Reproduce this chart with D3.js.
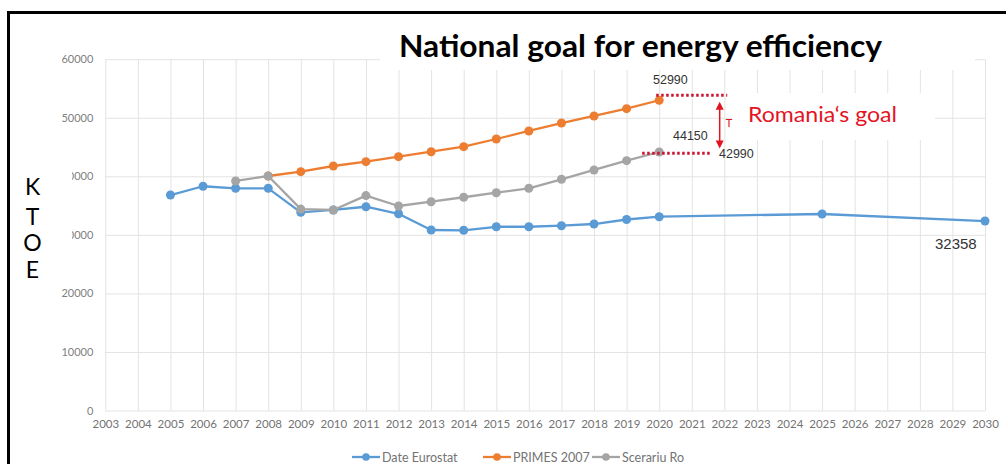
<!DOCTYPE html>
<html>
<head>
<meta charset="utf-8">
<script src="https://cdn.jsdelivr.net/npm/d3@7"></script>
<style>
html,body{margin:0;padding:0;background:#fff;}
svg{display:block;}
</style>
</head>
<body>
<svg id="chart" width="1006" height="464"></svg>
<script>
// ---- data ----
const years = d3.range(2003, 2031);
const yTicks = [0, 10000, 20000, 30000, 40000, 50000, 60000];

const eurostatYears  = [2005,2006,2007,2008,2009,2010,2011,2012,2013,2014,2015,2016,2017,2018,2019,2020,2025,2030];
const eurostatValues = [36800,38300,37950,37950,33850,34250,34800,33600,30830,30780,31380,31380,31560,31850,32620,33100,33560,32358];

const primesYears  = [2008,2009,2010,2011,2012,2013,2014,2015,2016,2017,2018,2019,2020];
const primesValues = [40050,40790,41760,42500,43350,44200,45060,46370,47740,49100,50300,51550,52990];

const scenarioYears  = [2007,2008,2009,2010,2011,2012,2013,2014,2015,2016,2017,2018,2019,2020];
const scenarioValues = [39200,40050,34400,34250,36700,34930,35660,36420,37200,37950,39490,41080,42670,44150];

const seriesNames = ["Date Eurostat", "PRIMES 2007", "Scerariu Ro"];
const seriesColors = ["#5B9BD5", "#ED7D31", "#A5A5A5"];

(function(){
// ---- layout ----
const svg = d3.select("#chart");
const pLeft = 105.3, pRight = 985, pTop = 59.2, pBottom = 410.5;

const x = d3.scalePoint().domain(years).range([pLeft, pRight]);
const y = d3.scaleLinear().domain([0, 60000]).range([pBottom, pTop]);

const grid = "#e3e3e3";
const tickColor = "#808080";

// horizontal gridlines
svg.append("g")
  .attr("transform", `translate(${pLeft},0)`)
  .call(d3.axisLeft(y).tickValues(yTicks).tickSize(-(pRight-pLeft)).tickFormat(""))
  .call(g => g.select(".domain").remove())
  .call(g => g.selectAll("line").attr("stroke", grid).attr("stroke-width", 1));

// vertical gridlines
svg.append("g")
  .attr("transform", `translate(0,${pBottom})`)
  .call(d3.axisBottom(x).tickSize(-(pBottom-pTop)).tickFormat(""))
  .call(g => g.select(".domain").remove())
  .call(g => g.selectAll("line").attr("stroke", grid).attr("stroke-width", 1));

// y tick labels
svg.append("g")
  .attr("transform", `translate(${pLeft},0)`)
  .call(d3.axisLeft(y).tickValues(yTicks).tickSize(0).tickPadding(12).tickFormat(d3.format("d")))
  .call(g => g.select(".domain").remove())
  .call(g => g.selectAll("text").attr("fill", tickColor).attr("font-family", "Lato, sans-serif").attr("font-size", "11px"));

// x tick labels
svg.append("g")
  .attr("transform", `translate(0,${pBottom})`)
  .call(d3.axisBottom(x).tickSize(0).tickPadding(9).tickFormat(d3.format("d")))
  .call(g => g.select(".domain").remove())
  .call(g => g.selectAll("text").attr("fill", "#737373").attr("font-family", "Lato, sans-serif").attr("font-size", "11.5px"));

// series
const series = [
  {name: seriesNames[0], color: seriesColors[0], pts: eurostatYears.map((yr,i)=>({yr, v: eurostatValues[i]}))},
  {name: seriesNames[1], color: seriesColors[1], pts: primesYears.map((yr,i)=>({yr, v: primesValues[i]}))},
  {name: seriesNames[2], color: seriesColors[2], pts: scenarioYears.map((yr,i)=>({yr, v: scenarioValues[i]}))}
];
const line = d3.line().x(d => x(d.yr)).y(d => y(d.v));

series.forEach(s => {
  const g = svg.append("g");
  g.append("path").datum(s.pts).attr("d", line)
    .attr("fill", "none").attr("stroke", s.color).attr("stroke-width", 2.3).attr("stroke-linejoin", "round");
  g.selectAll("circle").data(s.pts).join("circle")
    .attr("cx", d => x(d.yr)).attr("cy", d => y(d.v)).attr("r", 4.5).attr("fill", s.color);
});

// title (with white background covering gridlines)
svg.append("rect").attr("x", 380).attr("y", 24).attr("width", 595).attr("height", 46).attr("fill", "#fff");
svg.append("text").attr("x", 399).attr("y", 57)
  .attr("font-family", "Lato, sans-serif").attr("font-weight", "bold").attr("font-size", "30px")
  .attr("fill", "#000").attr("textLength", 483).attr("lengthAdjust", "spacingAndGlyphs")
  .text("National goal for energy efficiency");

// KTOE label with white background
svg.append("rect").attr("x", 10).attr("y", 165).attr("width", 62).attr("height", 120).attr("fill", "#fff");
const ktoeBase = [195, 225, 251, 278];
["K","T","O","E"].forEach((c,i) => {
  svg.append("text").attr("x", 32.5).attr("y", ktoeBase[i]).attr("text-anchor", "middle")
    .attr("font-family", "Lato, sans-serif").attr("font-size", "23px").attr("fill", "#000").text(c);
});

// annotation: Romania's goal
const red = "#e3141f";
svg.append("rect").attr("x", 732).attr("y", 93).attr("width", 203).attr("height", 47).attr("fill", "#fff");
const x20 = x(2020);
svg.append("line").attr("x1", x20-3).attr("x2", x20+68).attr("y1", y(52990)-5).attr("y2", y(52990)-5)
  .attr("stroke", "#cc1430").attr("stroke-width", 3).attr("stroke-dasharray", "2.5,2.5");
svg.append("line").attr("x1", x20-17).attr("x2", x20+53).attr("y1", y(44150)+1.3).attr("y2", y(44150)+1.3)
  .attr("stroke", "#cc1430").attr("stroke-width", 3).attr("stroke-dasharray", "2.5,2.5");
// double arrow
const ax = x20 + 60.5, ay1 = y(52990) + 1.5, ay2 = y(44150) - 3.5;
svg.append("line").attr("x1", ax).attr("x2", ax).attr("y1", ay1 + 6).attr("y2", ay2 - 6)
  .attr("stroke", red).attr("stroke-width", 1.5);
svg.append("path").attr("d", `M${ax},${ay1} L${ax-4},${ay1+8} L${ax+4},${ay1+8} Z`).attr("fill", red);
svg.append("path").attr("d", `M${ax},${ay2} L${ax-4},${ay2-8} L${ax+4},${ay2-8} Z`).attr("fill", red);
svg.append("text").attr("x", ax + 6).attr("y", 127).attr("font-family", "Lato, sans-serif")
  .attr("font-size", "11px").attr("fill", red).text("T");
svg.append("text").attr("x", 748).attr("y", 121.5).attr("font-family", "Lato, sans-serif")
  .attr("font-size", "21px").attr("fill", red).attr("textLength", 149).attr("lengthAdjust", "spacingAndGlyphs")
  .text("Romania\u2018s goal");

// value labels
const valFont = "Liberation Sans, Arial, sans-serif";
svg.append("text").attr("x", 653).attr("y", 83.5).attr("font-family", valFont).attr("font-size", "12.5px")
  .attr("fill", "#333").text(d3.format("d")(primesValues[primesValues.length-1]));
svg.append("text").attr("x", 673).attr("y", 140).attr("font-family", valFont).attr("font-size", "12.5px")
  .attr("fill", "#333").text(d3.format("d")(scenarioValues[scenarioValues.length-1]));
svg.append("text").attr("x", 719).attr("y", 158).attr("font-family", valFont).attr("font-size", "12.5px")
  .attr("fill", "#333").text("42990");
svg.append("text").attr("x", 935).attr("y", 248.5).attr("font-family", valFont).attr("font-size", "15px")
  .attr("fill", "#333").text(d3.format("d")(eurostatValues[eurostatValues.length-1]));

// legend
const legendX = [352, 483, 592];
series.forEach((s, i) => {
  const lx = legendX[i], ly = 457;
  svg.append("line").attr("x1", lx).attr("x2", lx + 28).attr("y1", ly).attr("y2", ly)
    .attr("stroke", s.color).attr("stroke-width", 2.3);
  svg.append("circle").attr("cx", lx + 14).attr("cy", ly).attr("r", 3.8).attr("fill", s.color);
  svg.append("text").attr("x", lx + 30).attr("y", ly + 4.5).attr("font-family", "Lato, sans-serif")
    .attr("font-size", "12.5px").attr("fill", "#737373").text(s.name);
});

// frame
svg.append("path").attr("d", "M8.5,464 V12.5 H1006").attr("fill", "none").attr("stroke", "#000").attr("stroke-width", 3);
})();
</script>
</body>
</html>
